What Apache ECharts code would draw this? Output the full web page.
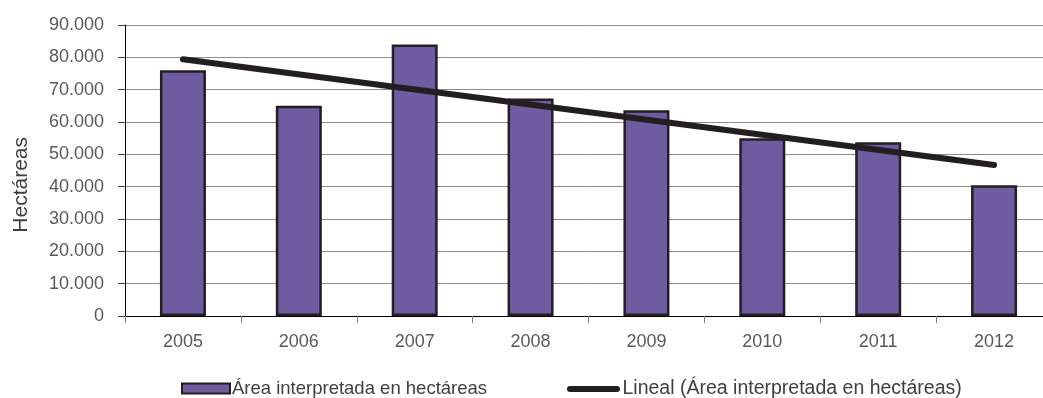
<!DOCTYPE html>
<html>
<head>
<meta charset="utf-8">
<script src="https://cdn.jsdelivr.net/npm/echarts@6/dist/echarts.min.js"></script>
<style>
  html, body { margin: 0; padding: 0; background: #ffffff; }
  #chart { width: 1043px; height: 398px; }
</style>
</head>
<body>
<div id="chart"></div>
<script>
// Años de la serie
const years = ['2005', '2006', '2007', '2008', '2009', '2010', '2011', '2012'];
// Área interpretada (ha) por año
const areaHa = [76000, 65000, 84000, 67300, 63600, 55000, 53700, 40400];
// Extremos de la línea de tendencia lineal (primer y último año)
const trendStart = 79400;
const trendEnd = 46700;
// Marcas del eje Y
const yTicks = [0, 10000, 20000, 30000, 40000, 50000, 60000, 70000, 80000, 90000];

const barName = 'Área interpretada en hectáreas';
const trendName = 'Lineal (Área interpretada en hectáreas)';

const trend = years.map((_, i) => i === 0 ? trendStart : (i === years.length - 1 ? trendEnd : null));

const FONT = '"Liberation Sans Narrow", "Arial Narrow", "Liberation Sans", Arial, sans-serif';
const fmtMiles = v => String(v).replace(/\B(?=(\d{3})+(?!\d))/g, '.');

const chart = echarts.init(document.getElementById('chart'), null, { renderer: 'canvas' });
chart.setOption({
  animation: false,
  backgroundColor: '#ffffff',
  // el área de trazado continúa un poco más allá del borde derecho
  grid: { left: 125, top: 25, width: 927, height: 291, containLabel: false, outerBoundsMode: 'none' },
  legend: [
    {
      left: 181, top: 379, padding: 0, data: [{ name: barName, icon: 'rect' }],
      itemWidth: 48, itemHeight: 10,
      textStyle: { fontFamily: FONT, fontSize: 18.5, color: '#404040', padding: [0, 0, 0, -3] }
    },
    {
      left: 567, top: 379, padding: 0,
      data: [{ name: trendName, icon: 'path://M3,0 H50 A3,3 0 0 1 50,6 H3 A3,3 0 0 1 3,0 Z' }],
      itemWidth: 54, itemHeight: 6,
      itemStyle: { color: '#231f20', borderWidth: 0 },
      textStyle: { fontFamily: FONT, fontSize: 19.5, color: '#404040', padding: [0, 0, 0, -3] }
    }
  ],
  xAxis: {
    type: 'category',
    data: years,
    axisLine: { lineStyle: { color: '#000000', width: 1 } },
    axisTick: { show: true, length: 7, lineStyle: { color: '#808080' } },
    axisLabel: { fontFamily: FONT, fontSize: 18, color: '#595959', margin: 17 }
  },
  yAxis: {
    type: 'value',
    min: yTicks[0],
    max: yTicks[yTicks.length - 1],
    interval: yTicks[1] - yTicks[0],
    axisLine: { show: true, lineStyle: { color: '#000000', width: 1 } },
    axisTick: { show: true, length: 7, lineStyle: { color: '#404040' } },
    axisLabel: { fontFamily: FONT, fontSize: 18, color: '#595959', margin: 21, formatter: fmtMiles },
    splitLine: { show: true, lineStyle: { color: '#8c8c8c', width: 1 } }
  },
  graphic: [{
    type: 'text',
    left: 11, top: 137,
    rotation: Math.PI / 2,
    style: {
      text: 'Hectáreas',
      font: '21px "Liberation Sans", Arial, sans-serif',
      fill: '#404040'
    }
  }],
  series: [
    {
      name: barName,
      type: 'bar',
      data: areaHa,
      barWidth: 46,
      itemStyle: { color: '#6f5b9f', borderColor: '#231f20', borderWidth: 2.5 },
      z: 2
    },
    {
      name: trendName,
      type: 'line',
      data: trend,
      connectNulls: true,
      symbol: 'none',
      lineStyle: { color: '#231f20', width: 6, cap: 'round' },
      itemStyle: { color: '#231f20' },
      z: 3
    }
  ]
});
</script>
</body>
</html>
